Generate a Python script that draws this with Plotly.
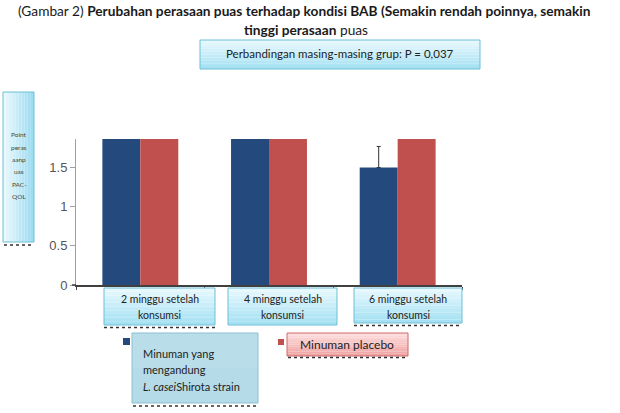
import plotly.graph_objects as go

# ---- data ----
categories = ["2 minggu setelah konsumsi", "4 minggu setelah konsumsi", "6 minggu setelah konsumsi"]
cat_labels = ["2 minggu setelah<br>konsumsi", "4 minggu setelah<br>konsumsi", "6 minggu setelah<br>konsumsi"]
series_names = ["Minuman yang mengandung L. casei Shirota strain", "Minuman placebo"]
casei_values = [2.0, 2.0, 1.5]
placebo_values = [2.0, 2.0, 2.0]
casei_err_plus = [0.0, 0.0, 0.27]
y_tickvals = [0, 0.5, 1, 1.5]
y_ticktext = ["0", "0.5", "1", "1.5"]

W, H = 620, 413
L, R, T, B = 76, 462, 139, 285  # plot area in pixels

def px(x):
    return (x - L) / (R - L)

def py(y):
    return (B - y) / (B - T)

BLUE = "#24497d"
RED = "#c0504d"
FONT = "Lato"

fig = go.Figure()
fig.add_trace(go.Bar(x=categories, y=casei_values, name=series_names[0], marker_color=BLUE,
                     marker_line_width=0,
                     error_y=dict(type="data", array=casei_err_plus, arrayminus=[0, 0, 0],
                                  symmetric=False, color="#333333", thickness=1, width=2)))
fig.add_trace(go.Bar(x=categories, y=placebo_values, name=series_names[1], marker_color=RED,
                     marker_line_width=0))

shapes = []
annotations = []

def hex2rgb(h):
    h = h.lstrip("#")
    return tuple(int(h[i:i + 2], 16) for i in (0, 2, 4))

def grad_box(x0, y0, x1, y1, c_top, c_bot, border, n=10, horizontal=False):
    a, b = hex2rgb(c_top), hex2rgb(c_bot)
    for i in range(n):
        t = i / (n - 1)
        c = "rgb(%d,%d,%d)" % tuple(round(a[k] + (b[k] - a[k]) * t) for k in range(3))
        if horizontal:
            sx0 = x0 + (x1 - x0) * i / n
            sx1 = x0 + (x1 - x0) * (i + 1) / n
            shapes.append(dict(type="rect", xref="paper", yref="paper", x0=px(sx0), x1=px(sx1),
                               y0=py(y1), y1=py(y0), fillcolor=c, line_width=0, layer="above"))
        else:
            sy0 = y0 + (y1 - y0) * i / n
            sy1 = y0 + (y1 - y0) * (i + 1) / n
            shapes.append(dict(type="rect", xref="paper", yref="paper", x0=px(x0), x1=px(x1),
                               y0=py(sy1), y1=py(sy0), fillcolor=c, line_width=0, layer="above"))
    shapes.append(dict(type="rect", xref="paper", yref="paper", x0=px(x0), x1=px(x1),
                       y0=py(y1), y1=py(y0), fillcolor="rgba(0,0,0,0)",
                       line=dict(color=border, width=1), layer="above"))

def dotted(x0, x1, y):
    shapes.append(dict(type="line", xref="paper", yref="paper", x0=px(x0), x1=px(x1),
                       y0=py(y), y1=py(y), line=dict(color="#333333", width=1.5, dash="dot"),
                       layer="above"))

def text(x, y, s, size=11, color="#222222", xanchor="center"):
    annotations.append(dict(xref="paper", yref="paper", x=px(x), y=py(y), text=s,
                            showarrow=False, xanchor=xanchor, yanchor="middle",
                            font=dict(family=FONT, size=size, color=color)))

# Title
text(304, 10, "(Gambar 2) <b>Perubahan perasaan puas terhadap kondisi BAB (Semakin rendah poinnya, semakin</b>",
     size=13.7, color="#1a1a1a")
text(306, 29, "<b>tinggi perasaan</b> puas", size=13.7, color="#1a1a1a")

# P-value box
CY_T, CY_B, CY_BORDER = "#e6f8fd", "#a6e1f3", "#6cbfd8"
grad_box(200, 40, 480, 69, CY_T, CY_B, CY_BORDER)
text(340, 54, "Perbandingan masing-masing grup: P = 0,037", size=11.5)

# Y-axis label box
grad_box(3, 92, 34, 242, "#e9f8fd", "#9edcf1", CY_BORDER, horizontal=True)
dotted(4, 34, 245)
ylab_lines = ["Point", "peras", "aanp", "uas", "PAC-", "QOL"]
for i, s in enumerate(ylab_lines):
    text(19, 135 + i * 12.3, s, size=6.5, color="#4a4a2a")

# Category label boxes
cat_box_x = [(104, 215), (228, 337), (354, 462)]
for i, (x0, x1) in enumerate(cat_box_x):
    y1 = 325 if i < 2 else 323
    grad_box(x0, 288, x1, y1, CY_T, CY_B, CY_BORDER)
    lines = cat_labels[i].split("<br>")
    text((x0 + x1) / 2, 299, lines[0], size=10.5)
    text((x0 + x1) / 2, 315, lines[1], size=10.5)
dotted(104, 215, 327.5)
dotted(354, 462, 325.5)

# short extension of the x axis line to the left of the y axis
shapes.append(dict(type="line", xref="paper", yref="paper", x0=px(72), x1=px(76),
                   y0=0, y1=0, line=dict(color="#404040", width=1.5)))

# Legend
shapes.append(dict(type="rect", xref="paper", yref="paper", x0=px(123), x1=px(130),
                   y0=py(345), y1=py(338), fillcolor=BLUE, line_width=0))
grad_box(132, 333, 258, 403, "#b9deea", "#b4dbe7", "#8cbfd0", n=2)
dotted(133, 258, 406)
text(141, 353, "Minuman yang", size=11, xanchor="left")
text(141, 369, "mengandung", size=11, xanchor="left")
text(141, 386, "<i>L. casei</i>Shirota strain", size=11, xanchor="left")

shapes.append(dict(type="rect", xref="paper", yref="paper", x0=px(278), x1=px(284),
                   y0=py(345), y1=py(339), fillcolor=RED, line_width=0))
grad_box(287, 333, 408, 356, "#fcdcdc", "#f1a3a3", "#cf6b6b")
dotted(288, 408, 357.5)
text(347, 344, "Minuman placebo", size=12)

fig.update_layout(
    width=W, height=H,
    margin=dict(l=L, r=W - R, t=T, b=H - B, pad=0),
    paper_bgcolor="white", plot_bgcolor="white",
    barmode="group", bargap=0.41, bargroupgap=0,
    showlegend=False,
    shapes=shapes, annotations=annotations,
    xaxis=dict(showticklabels=False, showline=True, linecolor="#404040", linewidth=1.5,
               ticks="outside", tickson="boundaries", ticklen=3, tickcolor="#404040",
               showgrid=False, zeroline=False, fixedrange=True),
    yaxis=dict(range=[0, 1.865], tickvals=y_tickvals, ticktext=y_ticktext,
               showline=True, linecolor="#a0a0a0", linewidth=1, ticks="outside",
               ticklen=5, tickcolor="#a0a0a0", showgrid=False, zeroline=False,
               tickfont=dict(family="Liberation Sans", size=13, color="#555555")),
)

fig.write_html("out.html")
